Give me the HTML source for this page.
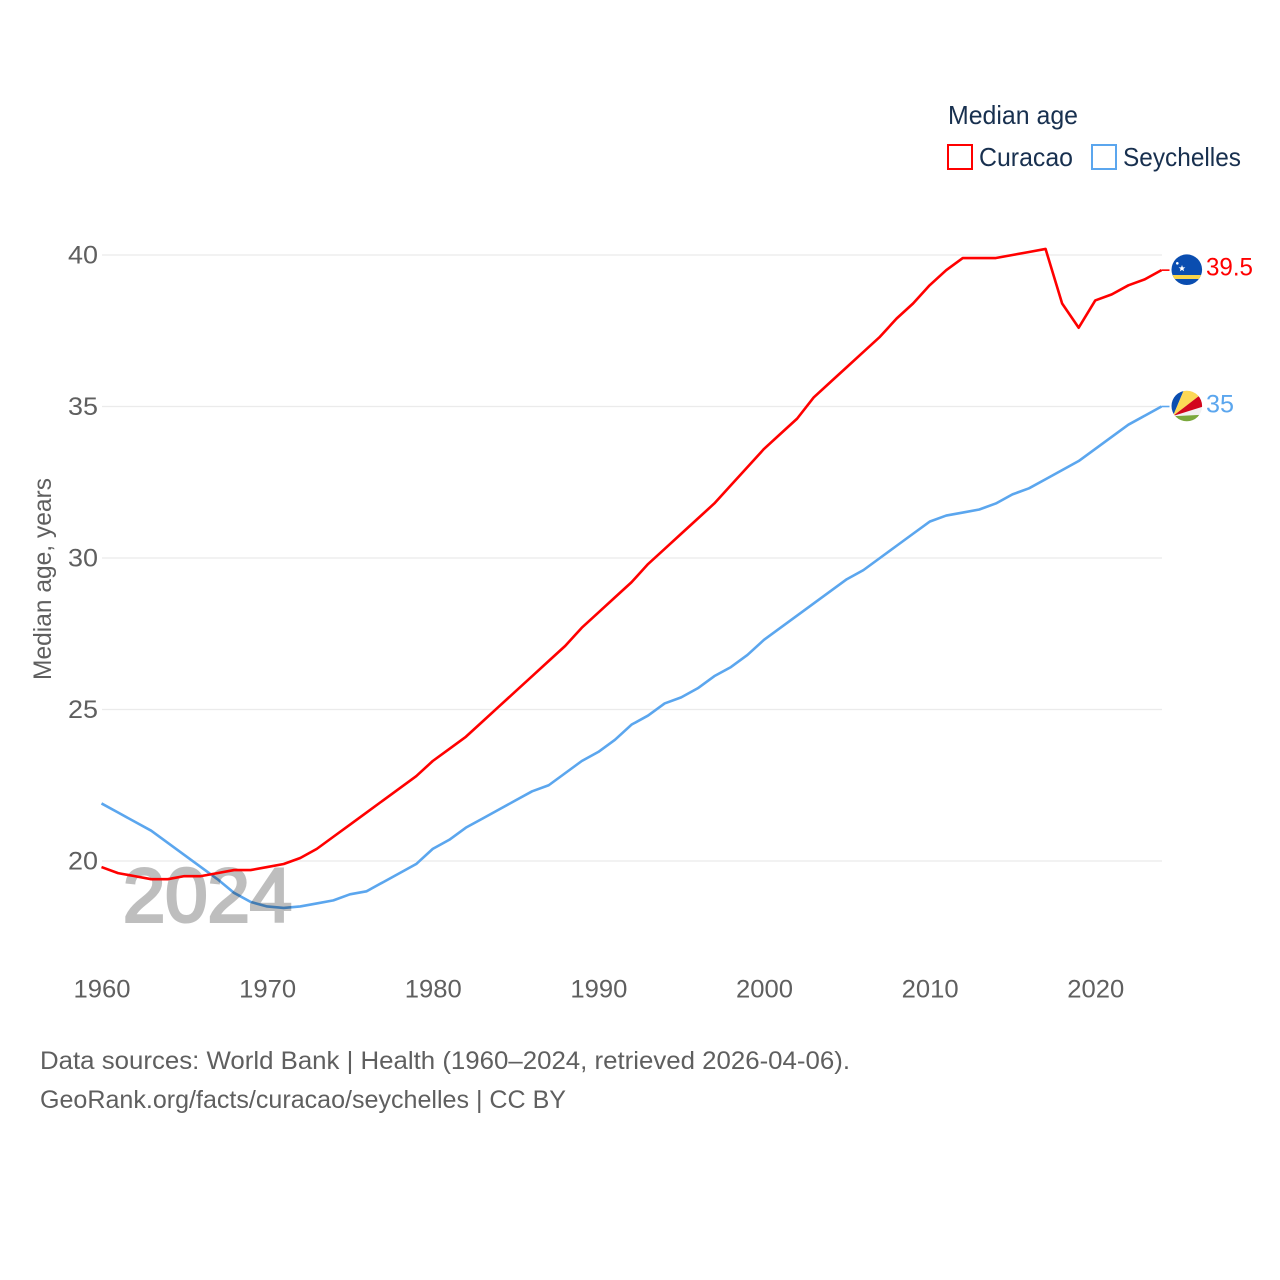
<!DOCTYPE html>
<html lang="en">
<head>
<meta charset="utf-8">
<title>Median age: Curacao and Seychelles</title>
<style>
html,body{margin:0;padding:0;background:#fff;width:1280px;height:1280px;overflow:hidden}
svg{display:block}
text{font-family:"Liberation Sans",sans-serif}
</style>
</head>
<body>
<svg id="chart" width="1280" height="1280" viewBox="0 0 1280 1280" xmlns="http://www.w3.org/2000/svg">
  <defs>
    <clipPath id="clip-cw"><circle cx="1186.8" cy="269.7" r="15.3"/></clipPath>
    <clipPath id="clip-sc"><circle cx="1186.8" cy="406" r="15.3"/></clipPath>
  </defs>
  <rect x="0" y="0" width="1280" height="1280" fill="#ffffff"/>

  <text x="948" y="124" font-size="26" fill="#18304f" textLength="130" lengthAdjust="spacingAndGlyphs">Median age</text>
  <g>
    <rect x="948" y="145" width="24" height="24" fill="none" stroke="#ff0000" stroke-width="2"/>
    <text x="979" y="166" font-size="26" fill="#18304f" textLength="94" lengthAdjust="spacingAndGlyphs">Curacao</text>
  </g>
  <g>
    <rect x="1092" y="145" width="24" height="24" fill="none" stroke="#5ba6ee" stroke-width="2"/>
    <text x="1123" y="166" font-size="26" fill="#18304f" textLength="118" lengthAdjust="spacingAndGlyphs">Seychelles</text>
  </g>

  <g id="grid"></g>
  <g id="y-ticks"></g>
  <g id="x-ticks"></g>

  <text transform="translate(51,579) rotate(-90)" text-anchor="middle" font-size="25" fill="#5f5f5f" textLength="202" lengthAdjust="spacingAndGlyphs">Median age, years</text>

  <path id="line-seychelles" fill="none" stroke="#5ba6ee" stroke-width="2.6" stroke-linejoin="round"/>
  <g opacity="0.25">
    <text x="123" y="921.5" font-size="76" fill="#000000" stroke="#000000" stroke-width="3" textLength="169" lengthAdjust="spacingAndGlyphs">2024</text>
  </g>
  <path id="line-curacao" fill="none" stroke="#ff0000" stroke-width="2.6" stroke-linejoin="round"/>

  <line id="conn-curacao" stroke="#ff0000" stroke-width="1.6"/>
  <line id="conn-seychelles" stroke="#5ba6ee" stroke-width="1.6"/>

  <g clip-path="url(#clip-cw)">
    <rect x="1170" y="253" width="34" height="34" fill="#0a4db0"/>
    <rect x="1170" y="275" width="34" height="4" fill="#f9d44a"/>
    <polygon points="1182,265 1182.9,267.4 1185.4,267.4 1183.4,268.9 1184.1,271.3 1182,269.9 1179.9,271.3 1180.6,268.9 1178.6,267.4 1181.1,267.4" fill="#ffffff"/>
    <circle cx="1177.3" cy="263.3" r="1.3" fill="#ffffff"/>
  </g>
  <g clip-path="url(#clip-sc)">
    <rect x="1170" y="389" width="34" height="34" fill="#f1f1f1"/>
    <polygon points="1173,416 1160,385 1186,385" fill="#0a4db0"/>
    <polygon points="1173,416 1186,385 1208,385 1208,389" fill="#fcd856"/>
    <polygon points="1173,416 1208,389 1208,405" fill="#d2061c"/>
    <polygon points="1170,416 1178,416 1208,414.5 1208,425 1170,425" fill="#7aa83c"/>
  </g>

  <text id="value-curacao" x="1206" y="275.5" font-size="25" fill="#ff0000" textLength="47" lengthAdjust="spacingAndGlyphs"></text>
  <text id="value-seychelles" x="1206" y="412.5" font-size="25" fill="#5ba6ee" textLength="28" lengthAdjust="spacingAndGlyphs"></text>

  <text x="40" y="1069" font-size="25" fill="#5f5f5f" textLength="810" lengthAdjust="spacingAndGlyphs">Data sources: World Bank | Health (1960–2024, retrieved 2026-04-06).</text>
  <text x="40" y="1108" font-size="25" fill="#5f5f5f" textLength="526" lengthAdjust="spacingAndGlyphs">GeoRank.org/facts/curacao/seychelles | CC BY</text>
</svg>
<script>
var firstYear = 1960;
var xTickYears = [1960, 1970, 1980, 1990, 2000, 2010, 2020];
var yTickValues = [20, 25, 30, 35, 40];
var curacaoValues = [19.8,19.6,19.5,19.4,19.4,19.5,19.5,19.6,19.7,19.7,19.8,19.9,20.1,20.4,20.8,21.2,21.6,22.0,22.4,22.8,23.3,23.7,24.1,24.6,25.1,25.6,26.1,26.6,27.1,27.7,28.2,28.7,29.2,29.8,30.3,30.8,31.3,31.8,32.4,33.0,33.6,34.1,34.6,35.3,35.8,36.3,36.8,37.3,37.9,38.4,39.0,39.5,39.9,39.9,39.9,40.0,40.1,40.2,38.4,37.6,38.5,38.7,39.0,39.2,39.5];
var seychellesValues = [21.9,21.6,21.3,21.0,20.6,20.2,19.8,19.4,18.95,18.65,18.5,18.45,18.5,18.6,18.7,18.9,19.0,19.3,19.6,19.9,20.4,20.7,21.1,21.4,21.7,22.0,22.3,22.5,22.9,23.3,23.6,24.0,24.5,24.8,25.2,25.4,25.7,26.1,26.4,26.8,27.3,27.7,28.1,28.5,28.9,29.3,29.6,30.0,30.4,30.8,31.2,31.4,31.5,31.6,31.8,32.1,32.3,32.6,32.9,33.2,33.6,34.0,34.4,34.7,35.0];

var SVGNS = 'http://www.w3.org/2000/svg';
function xScale(year) { return 101.5 + (year - 1960) * 1060 / 64; }
function yScale(value) { return 861 - (value - 20) * (861 - 255) / 20; }
function linePath(values) {
  var d = '';
  for (var i = 0; i < values.length; i++) {
    d += (i ? 'L' : 'M') + xScale(firstYear + i).toFixed(2) + ' ' + yScale(values[i]).toFixed(2);
  }
  return d;
}

var gridGroup = document.getElementById('grid');
var yTickGroup = document.getElementById('y-ticks');
var xTickGroup = document.getElementById('x-ticks');

yTickValues.forEach(function (v) {
  var gl = document.createElementNS(SVGNS, 'line');
  
  
  gl.setAttribute('x1', 102);
  gl.setAttribute('x2', 1162);
  gl.setAttribute('y1', yScale(v));
  gl.setAttribute('y2', yScale(v));
  gl.setAttribute('stroke', '#ebebeb');
  gl.setAttribute('stroke-width', '1.3');
  gridGroup.appendChild(gl);

  var t = document.createElementNS(SVGNS, 'text');
  
  
  t.setAttribute('x', 98);
  t.setAttribute('y', yScale(v) + 8.5);
  t.setAttribute('text-anchor', 'end');
  t.setAttribute('font-size', '25');
  t.setAttribute('fill', '#5f5f5f');
  t.setAttribute('textLength', '30');
  t.setAttribute('lengthAdjust', 'spacingAndGlyphs');
  t.textContent = v;
  yTickGroup.appendChild(t);
});

xTickYears.forEach(function (y) {
  var t = document.createElementNS(SVGNS, 'text');
  
  
  t.setAttribute('x', xScale(y) + 0.5);
  t.setAttribute('y', 997.5);
  t.setAttribute('text-anchor', 'middle');
  t.setAttribute('font-size', '25');
  t.setAttribute('fill', '#5f5f5f');
  t.setAttribute('textLength', '57');
  t.setAttribute('lengthAdjust', 'spacingAndGlyphs');
  t.textContent = y;
  xTickGroup.appendChild(t);
});

document.getElementById('line-curacao').setAttribute('d', linePath(curacaoValues));
document.getElementById('line-seychelles').setAttribute('d', linePath(seychellesValues));

function connector(id, values) {
  var last = values[values.length - 1];
  var c = document.getElementById(id);
  c.setAttribute('x1', xScale(2024));
  c.setAttribute('x2', xScale(2024) + 8);
  c.setAttribute('y1', yScale(last));
  c.setAttribute('y2', yScale(last));
}
connector('conn-curacao', curacaoValues);
connector('conn-seychelles', seychellesValues);

document.getElementById('value-curacao').textContent = curacaoValues[curacaoValues.length - 1];
document.getElementById('value-seychelles').textContent = seychellesValues[seychellesValues.length - 1];
</script>
</body>
</html>
